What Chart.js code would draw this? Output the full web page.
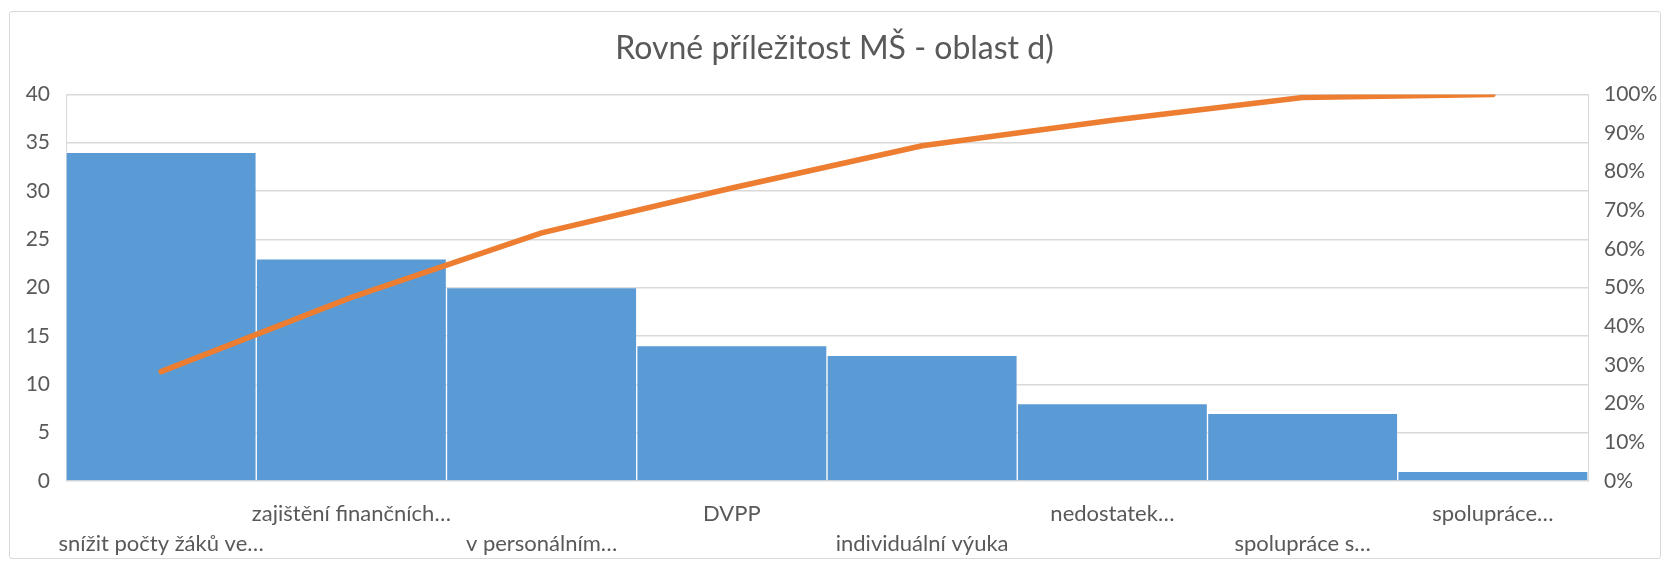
<!DOCTYPE html>
<html>
<head>
<meta charset="utf-8">
<script src="https://cdn.jsdelivr.net/npm/chart.js@4"></script>
<style>
  html, body { margin: 0; padding: 0; background: #fff; }
  #wrap { position: relative; width: 1669px; height: 566px; }
  #frame { position: absolute; left: 9px; top: 11px; width: 1650px; height: 546px;
           border: 1px solid #D9D9D9; border-radius: 3px; pointer-events: none; }
</style>
</head>
<body>
<div id="wrap">
  <canvas id="paretoChart" width="1669" height="566"></canvas>
  <div id="frame"></div>
</div>
<script>
// data
const categories = ['snížit počty žáků ve…', 'zajištění finančních…', 'v personálním…', 'DVPP',
  'individuální výuka', 'nedostatek…', 'spolupráce s…', 'spolupráce…'];
const counts = [34, 23, 20, 14, 13, 8, 7, 1];
const cumulativePct = [28.3, 47.5, 64.2, 75.8, 86.7, 93.3, 99.2, 100];
const leftTicks = [0, 5, 10, 15, 20, 25, 30, 35, 40];
const rightTicks = [0, 10, 20, 30, 40, 50, 60, 70, 80, 90, 100];

const FONT = 'Lato';
const TEXT = '#595959';

document.addEventListener('DOMContentLoaded', () => {
  const ctx = document.getElementById('paretoChart').getContext('2d');

  new Chart(ctx, {
    type: 'bar',
    data: {
      labels: categories,
      datasets: [{
        type: 'line',
        data: cumulativePct,
        yAxisID: 'y1',
        borderColor: '#ED7D31',
        borderWidth: 5.5,
        pointRadius: 0,
        borderCapStyle: 'round',
        tension: 0,
        order: 0
      }, {
        data: counts,
        yAxisID: 'y',
        backgroundColor: '#5B9BD5',
        borderColor: 'rgba(255,255,255,0.25)',
        borderWidth: 1,
        borderSkipped: 'bottom',
        barPercentage: 1,
        categoryPercentage: 1,
        order: 1
      }]
    },
    options: {
      responsive: false,
      animation: false,
      layout: { padding: { left: 10, right: 10, top: 0, bottom: 0 } },
      plugins: {
        legend: { display: false },
        tooltip: { enabled: false },
        title: {
          display: true,
          text: 'Rovné příležitost MŠ - oblast d)',
          color: TEXT,
          font: { family: FONT, size: 32, weight: 'normal' },
          padding: { top: 29, bottom: 27 }
        }
      },
      scales: {
        x: {
          grid: { display: false },
          border: { display: false },
          ticks: {
            color: TEXT,
            font: { family: FONT, size: 22, lineHeight: 1.36 },
            autoSkip: false,
            maxRotation: 0,
            minRotation: 0,
            padding: 10,
            // staggered labels like the original
            callback: function (value, index) {
              const l = this.getLabelForValue(value);
              return index % 2 === 0 ? ['', l] : [l, ''];
            }
          },
          afterFit: (s) => { s.height = 85; }
        },
        y: {
          position: 'left',
          min: 0,
          max: 40,
          afterBuildTicks: (s) => { s.ticks = leftTicks.map(v => ({ value: v })); },
          grid: { color: '#D9D9D9', lineWidth: 1.5, drawTicks: false },
          border: { display: true, color: '#D9D9D9' },
          ticks: { color: TEXT, font: { family: FONT, size: 21 }, padding: 16 },
          afterFit: (s) => { s.width = 56; }
        },
        y1: {
          position: 'right',
          min: 0,
          max: 100,
          afterBuildTicks: (s) => { s.ticks = rightTicks.map(v => ({ value: v })); },
          grid: { display: false, drawTicks: false },
          border: { display: true, color: '#D9D9D9' },
          ticks: {
            color: TEXT,
            font: { family: FONT, size: 21 },
            padding: 16,
            callback: (v) => v + '%'
          },
          afterFit: (s) => { s.width = 71; }
        }
      }
    }
  });
});
</script>
</body>
</html>
